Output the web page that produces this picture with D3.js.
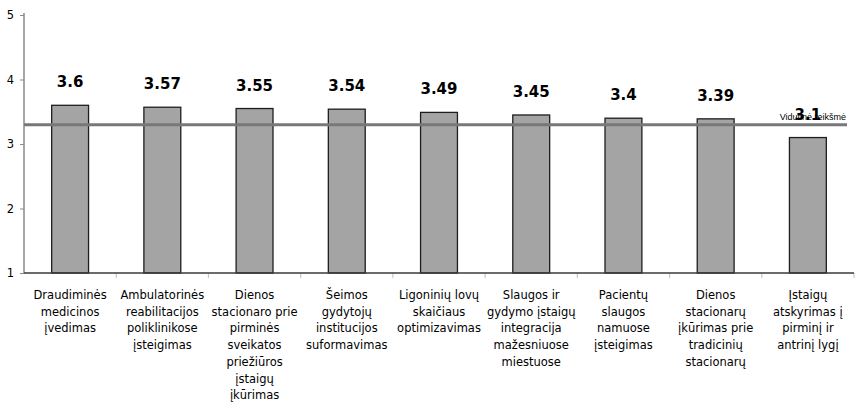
<!DOCTYPE html>
<html>
<head>
<meta charset="utf-8">
<script src="https://cdn.jsdelivr.net/npm/d3@7/dist/d3.min.js"></script>
<style>
  html, body { margin: 0; padding: 0; background: #fff; }
  svg { display: block; }
</style>
</head>
<body>
<script>
// Priemonių vertinimai (vidurkiai skalėje 1–5)
const categories = [
  ["Draudiminės", "medicinos", "įvedimas"],
  ["Ambulatorinės", "reabilitacijos", "poliklinikose", "įsteigimas"],
  ["Dienos", "stacionaro prie", "pirminės", "sveikatos", "priežiūros", "įstaigų", "įkūrimas"],
  ["Šeimos", "gydytojų", "institucijos", "suformavimas"],
  ["Ligoninių lovų", "skaičiaus", "optimizavimas"],
  ["Slaugos ir", "gydymo įstaigų", "integracija", "mažesniuose", "miestuose"],
  ["Pacientų", "slaugos", "namuose", "įsteigimas"],
  ["Dienos", "stacionarų", "įkūrimas prie", "tradicinių", "stacionarų"],
  ["Įstaigų", "atskyrimas į", "pirminį ir", "antrinį lygį"]
];
const values = [3.6, 3.57, 3.55, 3.54, 3.49, 3.45, 3.4, 3.39, 3.1];
const averageValue = 3.3;
const averageLabel = "Vidutinė reikšmė";
const yTicks = [1, 2, 3, 4, 5];

const W = 856, H = 404;
const plotLeft = 24, plotRight = 854, plotTop = 15, plotBottom = 273;

const svg = d3.select("body").append("svg").attr("width", W).attr("height", H);

const keys = categories.map((c, i) => i);
const x = d3.scaleBand().domain(keys).range([plotLeft, plotRight]).padding(0);
const y = d3.scaleLinear().domain([1, 5]).range([plotBottom, plotTop]);
const barW = x.bandwidth() * 0.4;

// Y axis
const yAxis = svg.append("g").attr("transform", `translate(${plotLeft},0)`)
  .call(d3.axisLeft(y).tickValues(yTicks).tickSize(4).tickPadding(6).tickFormat(d3.format("d")));
yAxis.select(".domain").attr("stroke", "#8a8a8a").attr("stroke-width", 1.5)
  .attr("d", `M0,${plotTop - 2}V${plotBottom}`);
yAxis.selectAll(".tick line").attr("stroke", "#8a8a8a");
yAxis.selectAll(".tick text").attr("font-family", "DejaVu Sans, sans-serif")
  .attr("font-size", 11.5).attr("fill", "#000");

// Bars
svg.append("g").selectAll("rect").data(values).join("rect")
  .attr("x", (d, i) => x(i) + (x.bandwidth() - barW) / 2)
  .attr("y", d => y(d))
  .attr("width", barW)
  .attr("height", d => y(1) - y(d))
  .attr("fill", "#a4a4a4")
  .attr("stroke", "#1e1e1e")
  .attr("stroke-width", 1.3);

// X axis with ticks at category boundaries
const bounds = keys.map(k => x(k)).concat([plotRight]);
svg.append("g").selectAll("line").data(bounds.slice(1)).join("line")
  .attr("x1", d => d).attr("x2", d => d)
  .attr("y1", plotBottom).attr("y2", plotBottom + 5)
  .attr("stroke", "#c8c8c8").attr("stroke-width", 1.2);
svg.append("line").attr("x1", plotLeft).attr("x2", plotRight)
  .attr("y1", plotBottom).attr("y2", plotBottom)
  .attr("stroke", "#3a3a3a").attr("stroke-width", 1.5);

// Average line
svg.append("line")
  .attr("x1", plotLeft).attr("x2", 847)
  .attr("y1", y(averageValue)).attr("y2", y(averageValue))
  .attr("stroke", "#787878").attr("stroke-width", 3);

// Value labels
svg.append("g").selectAll("text").data(values).join("text")
  .attr("x", (d, i) => x(i) + x.bandwidth() / 2)
  .attr("y", d => y(d) - 18)
  .attr("text-anchor", "middle")
  .attr("font-family", "DejaVu Sans, sans-serif")
  .attr("font-weight", "bold")
  .attr("font-size", 15)
  .attr("fill", "#000")
  .text(d => d);

// Average label
svg.append("text")
  .attr("x", 846).attr("y", y(averageValue) - 5)
  .attr("text-anchor", "end")
  .attr("font-family", "Liberation Sans, Arial, sans-serif")
  .attr("font-size", 9)
  .attr("fill", "#000")
  .text(averageLabel);

// Category labels
const catG = svg.append("g");
categories.forEach((lines, i) => {
  const t = catG.append("text")
    .attr("text-anchor", "middle")
    .attr("font-family", "DejaVu Sans, sans-serif")
    .attr("font-size", 11.5)
    .attr("fill", "#000");
  lines.forEach((ln, j) => {
    t.append("tspan")
      .attr("x", x(i) + x.bandwidth() / 2)
      .attr("y", 299 + j * 16.7)
      .text(ln);
  });
});
</script>
</body>
</html>
